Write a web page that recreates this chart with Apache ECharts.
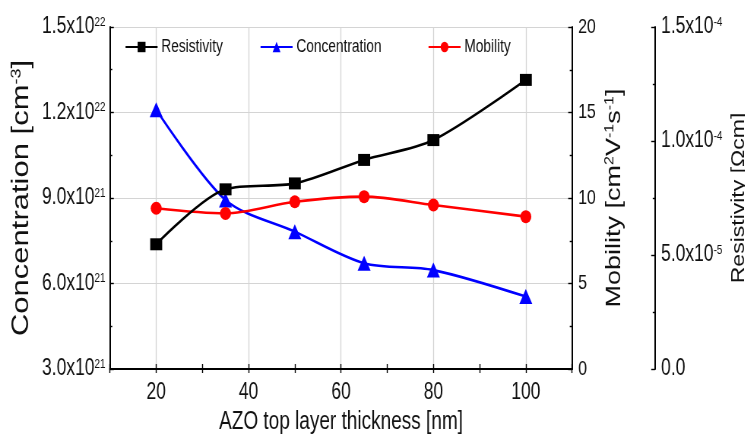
<!DOCTYPE html>
<html>
<head>
<meta charset="utf-8">
<script src="https://cdn.jsdelivr.net/npm/echarts@6/dist/echarts.min.js"></script>
<style>
html,body{margin:0;padding:0;background:#fff;overflow:hidden;width:745px;height:439px;}
#wrap{width:745px;height:439px;overflow:hidden;position:relative;}
#c{width:980px;height:439px;transform:scaleX(0.76);transform-origin:0 0;position:absolute;left:0;top:0;}
</style>
</head>
<body>
<div id="wrap"><div id="c"></div></div>
<script>
// ---- data ----
var thickness = [20, 35, 50, 65, 80, 100];                 // nm
var concentration = [1.21e22, 8.93e21, 7.82e21, 6.71e21, 6.47e21, 5.54e21]; // cm^-3
var mobility = [9.40, 9.10, 9.78, 10.08, 9.59, 8.91];      // cm2/Vs
var resistivity = [5.47e-5, 7.88e-5, 8.14e-5, 9.17e-5, 1.004e-4, 1.268e-4]; // Ohm cm
var xTickLabels = [20, 40, 60, 80, 100];

var SANS = "'Liberation Sans', Arial, Helvetica, sans-serif";
var K = 0.76;   // horizontal compression of the reference figure
var W = 980, H = 439;

function pairs(ys) { return thickness.map(function (x, i) { return [x, ys[i]]; }); }
function sci(v) {
  if (Math.abs(v) < 1e-30) return '{m|0.0}';
  var e = Math.floor(Math.log10(Math.abs(v)) + 1e-9);
  var m = v / Math.pow(10, e);
  return '{m|' + m.toFixed(1) + 'x10}{s|' + e + '}';
}
function rich(size, sup) {
  return {
    m: { fontFamily: SANS, fontSize: size, color: '#111' },
    s: { fontFamily: SANS, fontSize: sup, color: '#111', verticalAlign: 'top' }
  };
}
var axisLine = { show: true, lineStyle: { color: '#000', width: 2 } };
var tick = { show: true, inside: true, length: 5, lineStyle: { color: '#000', width: 1.4 } };
var minor = { show: true, splitNumber: 2, length: 3, lineStyle: { color: '#000', width: 1.4 } };
function X(px) { return px / K; }

var legendText = { fontFamily: SANS, fontSize: 18, color: '#111' };

var chart = echarts.init(document.getElementById('c'), null, { renderer: 'canvas', width: W, height: H });
chart.setOption({
  backgroundColor: '#fff',
  animation: false,
  grid: { left: X(110), right: W - X(572), top: 27, bottom: 70, containLabel: false, outerBoundsMode: 'none' },
  legend: [
    { data: ['Resistivity'], left: X(121), top: 33, itemWidth: X(32), itemHeight: 13, textStyle: legendText },
    { data: ['Concentration'], left: X(256), top: 33, itemWidth: X(32), itemHeight: 13, textStyle: legendText },
    { data: ['Mobility'], left: X(424), top: 33, itemWidth: X(32), itemHeight: 13, textStyle: legendText }
  ],
  xAxis: [
    {
      type: 'value', min: 10, max: 110, interval: 10, position: 'bottom',
      name: 'AZO top layer thickness [nm]', nameLocation: 'middle', nameGap: 41,
      nameTextStyle: { fontFamily: SANS, fontSize: 25, color: '#111' },
      axisLine: axisLine,
      axisTick: tick,
      axisLabel: {
        margin: 12, fontFamily: SANS, fontSize: 23, color: '#111',
        formatter: function (v) { return xTickLabels.indexOf(Math.round(v)) >= 0 ? String(Math.round(v)) : ''; }
      },
      splitLine: { show: true, lineStyle: { color: ['rgba(0,0,0,0)', '#d4d4d4'], width: 1.3 } }
    },
    {
      type: 'value', min: 10, max: 110, interval: 10, position: 'top',
      axisLine: axisLine,
      axisTick: { show: true, inside: true, length: 4, lineStyle: { color: '#000', width: 1.4 } },
      axisLabel: { show: false },
      splitLine: { show: false }
    }
  ],
  yAxis: [
    {
      type: 'value', min: 3e21, max: 1.5e22, interval: 3e21, position: 'left',
      name: '{n|Concentration [cm}{s|-3}{n|]}', nameLocation: 'middle', nameRotate: 90, nameGap: 100,
      nameTextStyle: {
        rich: {
          n: { fontFamily: SANS, fontSize: 31, color: '#111' },
          s: { fontFamily: SANS, fontSize: 18, color: '#111', verticalAlign: 'top' }
        }
      },
      axisLine: axisLine,
      axisTick: tick,
      minorTick: minor,
      axisLabel: { margin: 6, formatter: sci, rich: rich(23, 13) },
      splitLine: { show: true, lineStyle: { color: '#d4d4d4', width: 1 } }
    },
    {
      type: 'value', min: 0, max: 20, interval: 5, position: 'right',
      name: '{n|Mobility [cm}{s|2}{n|V}{s|-1}{n|s}{s|-1}{n|]}', nameLocation: 'middle', nameRotate: 90, nameGap: 25,
      nameTextStyle: {
        rich: {
          n: { fontFamily: SANS, fontSize: 27, color: '#111' },
          s: { fontFamily: SANS, fontSize: 16, color: '#111', verticalAlign: 'top' }
        }
      },
      axisLine: axisLine,
      axisTick: tick,
      minorTick: minor,
      axisLabel: { margin: 8, fontFamily: SANS, fontSize: 21, color: '#111' },
      splitLine: { show: false }
    },
    {
      type: 'value', min: 0, max: 1.5e-4, interval: 5e-5, position: 'right', offset: X(655) - X(572),
      name: '{n|Resistivity [Ωcm]}', nameLocation: 'middle', nameRotate: 90, nameGap: 80,
      nameTextStyle: {
        rich: { n: { fontFamily: SANS, fontSize: 23, color: '#111' } }
      },
      axisLine: axisLine,
      axisTick: tick,
      minorTick: minor,
      axisLabel: { margin: 8, formatter: sci, rich: rich(23, 13) },
      splitLine: { show: false }
    }
  ],
  series: [
    {
      name: 'Resistivity', type: 'line', xAxisIndex: 0, yAxisIndex: 2, data: pairs(resistivity),
      smooth: 0.3, symbol: 'rect', symbolSize: [X(12), 12],
      lineStyle: { color: '#000', width: 2.6 }, itemStyle: { color: '#000' }, z: 3
    },
    {
      name: 'Concentration', type: 'line', xAxisIndex: 0, yAxisIndex: 0, data: pairs(concentration),
      smooth: 0.3, symbol: 'triangle', symbolSize: [X(13), 15],
      lineStyle: { color: '#0000ff', width: 2.6 }, itemStyle: { color: '#0000ff' }, z: 2
    },
    {
      name: 'Mobility', type: 'line', xAxisIndex: 0, yAxisIndex: 1, data: pairs(mobility),
      smooth: 0.3, symbol: 'circle', symbolSize: [X(11), 13],
      lineStyle: { color: '#ff0000', width: 2.6 }, itemStyle: { color: '#ff0000' }, z: 2
    }
  ]
});
</script>
</body>
</html>
